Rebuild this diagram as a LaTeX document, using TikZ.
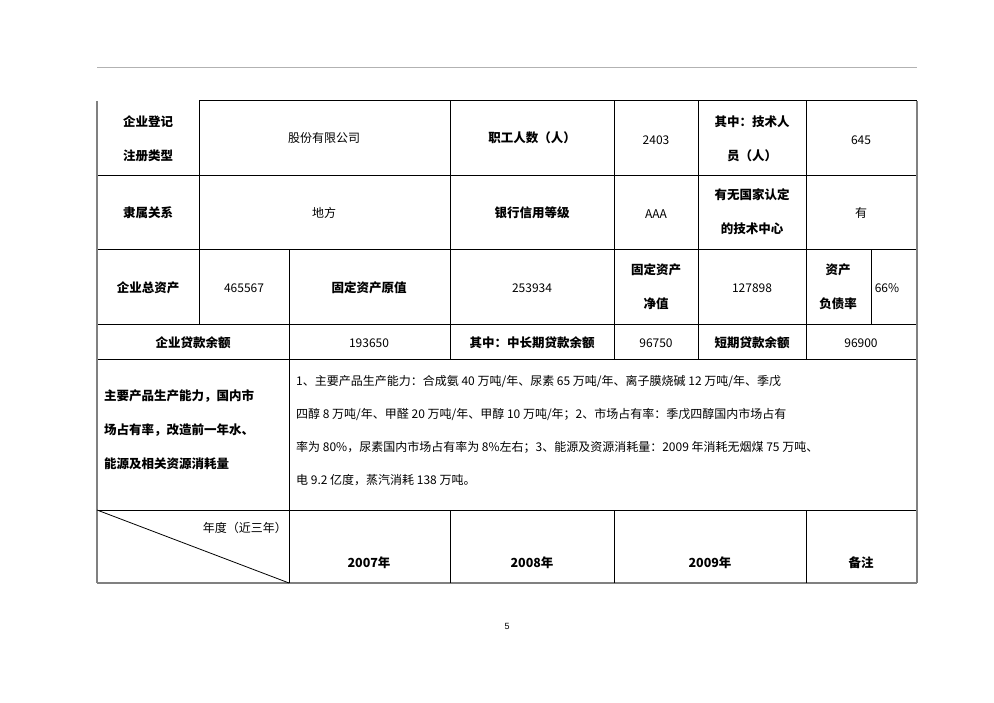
\documentclass[tikz,border=0pt]{standalone}
\usepackage{fontspec}
\setmainfont{Liberation Sans}
\newfontfamily\cjk{Noto Sans CJK SC}
\begin{document}
\begin{tikzpicture}[x=1pt,y=-1pt,
  lbl/.style={font=\cjk\bfseries\fontsize{12.5}{34}\selectfont,align=center,inner sep=0},
  val/.style={font=\cjk\fontsize{12}{34}\selectfont,align=center,inner sep=0},
  ln/.style={line width=1pt,black},
  gl/.style={line width=1.6pt,gray}]
\useasboundingbox (0,0) rectangle (994,703);
\draw[gray!60,line width=0.6pt] (97,67) -- (917,67);
\draw[ln] (199,101) -- (917,101);
\foreach \y in {176,250,325,360,510} \draw[ln] (97,\y) -- (917,\y);
\draw[gl] (97,583) -- (917,583);
\draw[gl] (97,101) -- (97,583);
\draw[gl] (917,101) -- (917,583);
\draw[ln] (199,101) -- (199,325);
\draw[ln] (289,250) -- (289,583);
\foreach \x in {450,614} {\draw[ln] (\x,101) -- (\x,360); \draw[ln] (\x,510) -- (\x,583);}
\draw[ln] (698,101) -- (698,360);
\draw[ln] (806,101) -- (806,360);
\draw[ln] (806,510) -- (806,583);
\draw[ln] (871,250) -- (871,325);
\draw[line width=0.8pt] (97,510) -- (289,583);
\node[lbl] (a1) at (148,139) {企业登记\\注册类型};
\node[val] (a2) at (324,138) {股份有限公司};
\node[lbl] (a3) at (532,138) {职工人数（人）};
\node[val] (a4) at (656,140) {2403};
\node[lbl] (a5) at (752,139) {其中：技术人\\员（人）};
\node[val] (a6) at (861,140) {645};
\node[lbl] (b1) at (148,213) {隶属关系};
\node[val] (b2) at (324,213) {地方};
\node[lbl] (b3) at (532,213) {银行信用等级};
\node[val] (b4) at (656,214) {AAA};
\node[lbl] (b5) at (752,212) {有无国家认定\\的技术中心};
\node[val] (b6) at (861,213) {有};
\node[lbl] (c1) at (148,288) {企业总资产};
\node[val] (c2) at (244,288) {465567};
\node[lbl] (c3) at (369,288) {固定资产原值};
\node[val] (c4) at (532,288) {253934};
\node[lbl] (c5) at (656,287) {固定资产\\净值};
\node[val] (c6) at (752,288) {127898};
\node[lbl] (c7) at (838,287) {资产\\负债率};
\node[val] (c8) at (887,288) {66\%};
\node[lbl] (d1) at (193,343) {企业贷款余额};
\node[val] (d2) at (369,343) {193650};
\node[lbl] (d3) at (532,343) {其中：中长期贷款余额};
\node[val] (d4) at (656,343) {96750};
\node[lbl] (d5) at (752,343) {短期贷款余额};
\node[val] (d6) at (861,343) {96900};
\node[lbl,align=left,anchor=west] (e1) at (104,430) {主要产品生产能力，国内市\\场占有率，改造前一年水、\\能源及相关资源消耗量};
\node[val,align=left,anchor=west,font=\cjk\fontsize{12}{33}\selectfont] (e2) at (296,431) {1、主要产品生产能力：合成氨 40 万吨/年、尿素 65 万吨/年、离子膜烧碱 12 万吨/年、季戊\\四醇 8 万吨/年、甲醛 20 万吨/年、甲醇 10 万吨/年；2、市场占有率：季戊四醇国内市场占有\\率为 80\%，尿素国内市场占有率为 8\%左右；3、能源及资源消耗量：2009 年消耗无烟煤 75 万吨、\\电 9.2 亿度，蒸汽消耗 138 万吨。};
\node[val,anchor=east] (f0) at (287,528) {年度（近三年）};
\node[lbl] (f1) at (369,563) {2007年};
\node[lbl] (f2) at (532,563) {2008年};
\node[lbl] (f3) at (710,563) {2009年};
\node[lbl] (f4) at (861,563) {备注};
\node[val,font=\fontsize{9}{10}\selectfont] (pg) at (507,626) {5};
\end{tikzpicture}
\end{document}
